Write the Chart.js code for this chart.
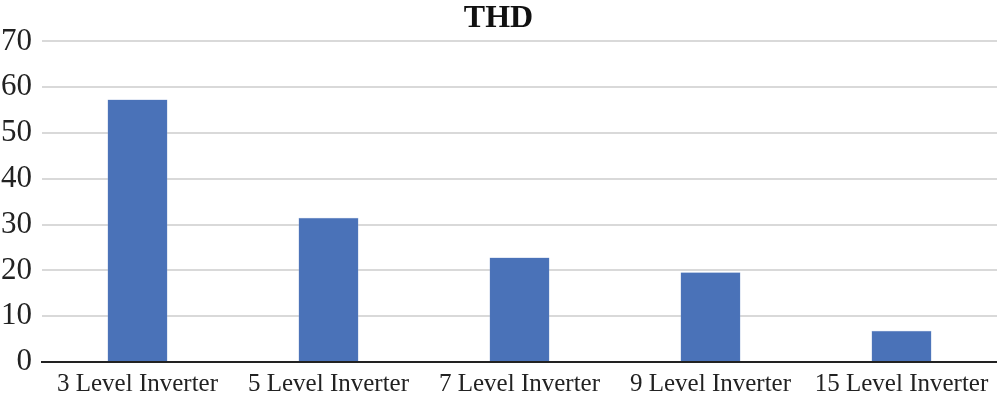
<!DOCTYPE html>
<html>
<head>
<meta charset="utf-8">
<script src="https://cdn.jsdelivr.net/npm/chart.js@4/dist/chart.umd.min.js"></script>
<style>
  html, body { margin: 0; padding: 0; background: #fff; }
  #wrap { width: 997px; height: 399px; }
</style>
</head>
<body>
<div id="wrap"><canvas id="chart"></canvas></div>
<script>
// values
var categories = ['3 Level Inverter', '5 Level Inverter', '7 Level Inverter', '9 Level Inverter', '15 Level Inverter'];
var thdValues = [57.3, 31.5, 22.8, 19.6, 6.8];
var yTicks = [0, 10, 20, 30, 40, 50, 60, 70];

var serif = '"Liberation Serif", "Times New Roman", serif';

var ctx = document.getElementById('chart');
var thdChart = new Chart(ctx, {
  type: 'bar',
  data: {
    labels: categories,
    datasets: [{
      label: 'THD',
      data: thdValues,
      backgroundColor: '#4a72b8',
      borderColor: '#8fa9d6',
      borderWidth: 0.5,
      categoryPercentage: 1,
      barPercentage: 0.314
    }]
  },
  options: {
    responsive: true,
    maintainAspectRatio: false,
    animation: false,
    layout: { padding: { left: 0, right: 0, top: 0, bottom: 0 } },
    plugins: {
      legend: { display: false },
      tooltip: { enabled: false },
      title: {
        display: true,
        text: 'THD',
        color: '#111',
        font: { family: serif, size: 32, weight: 'bold' },
        padding: { top: 0, bottom: 3 }
      }
    },
    scales: {
      x: {
        grid: { display: false, drawTicks: false },
        border: { color: '#222', width: 2 },
        // fixed height and no side padding so the plot reaches the right edge
        afterFit: function(axis) {
          axis.height = 37;
          axis.paddingLeft = 0;
          axis.paddingRight = 0;
        },
        ticks: {
          color: '#222',
          font: { family: serif, size: 25 },
          padding: 7,
          autoSkip: false,
          maxRotation: 0
        }
      },
      y: {
        min: yTicks[0],
        max: yTicks[yTicks.length - 1],
        afterBuildTicks: function(axis) {
          axis.ticks = yTicks.map(function(v) { return { value: v }; });
        },
        afterFit: function(axis) { axis.width = 42; },
        grid: { color: '#d9d9d9', lineWidth: 2, drawTicks: false },
        border: { display: false },
        ticks: {
          color: '#222',
          font: { family: serif, size: 31 },
          padding: 10
        }
      }
    }
  }
});
</script>
</body>
</html>
